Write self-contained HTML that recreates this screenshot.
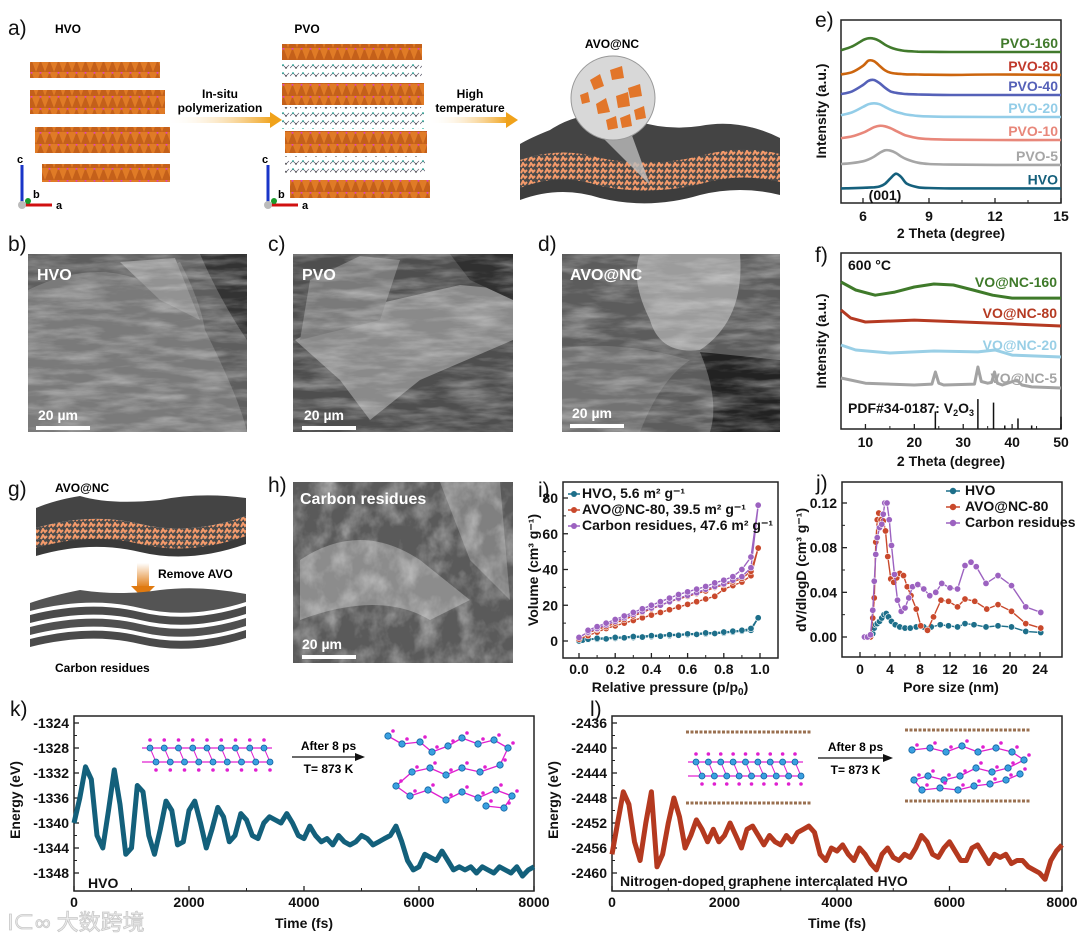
<!DOCTYPE html>
<html><head><meta charset="utf-8">
<style>
html,body{margin:0;padding:0;background:#fff;}
svg{display:block;font-family:"Liberation Sans",Arial,sans-serif;}
.tk{font-size:14px;font-weight:bold;fill:#111;}
.tt{font-size:14px;font-weight:bold;}
.pl{font-size:21px;fill:#111;}
</style></head>
<body>
<svg id="fig" width="1080" height="941" viewBox="0 0 1080 941" xmlns="http://www.w3.org/2000/svg">
<defs>
<filter id="semTex" x="0" y="0" width="100%" height="100%">
<feTurbulence type="fractalNoise" baseFrequency="0.02 0.1" numOctaves="4" seed="4"/>
<feColorMatrix type="matrix" values="0 0 0 0 0.85  0 0 0 0 0.85  0 0 0 0 0.85  0.8 0.4 0 0 -0.5"/>
</filter>
<filter id="semTex2" x="0" y="0" width="100%" height="100%">
<feTurbulence type="fractalNoise" baseFrequency="0.05 0.04" numOctaves="4" seed="9"/>
<feColorMatrix type="matrix" values="0 0 0 0 0.85  0 0 0 0 0.85  0 0 0 0 0.85  0.9 0.3 0 0 -0.5"/>
</filter>
<linearGradient id="arrowG" x1="0" x2="1"><stop offset="0" stop-color="#fff" stop-opacity="0"/><stop offset="1" stop-color="#f0a21a"/></linearGradient>
<linearGradient id="arrowV" x1="0" x2="0" y1="0" y2="1"><stop offset="0" stop-color="#fff"/><stop offset="1" stop-color="#e07a10"/></linearGradient>
<pattern id="octa" width="9" height="12" patternUnits="userSpaceOnUse"><rect width="9" height="12" fill="#e07b26"/><path d="M0 12 L4.5 0 L9 12" fill="#c4601a"/><circle cx="4.5" cy="0.8" r="1" fill="#e040c0"/></pattern>
<pattern id="poly" width="10" height="8" patternUnits="userSpaceOnUse"><path d="M0 4 L3 1 L6 4 L9 1" stroke="#556" stroke-width="0.7" fill="none"/><circle cx="3" cy="1" r="0.9" fill="#2a9"/><circle cx="6" cy="4" r="0.8" fill="#333"/></pattern>
<pattern id="orng" width="8" height="6" patternUnits="userSpaceOnUse"><rect width="8" height="6" fill="#4a4a4a"/><path d="M1 5 L3 1 L5 4 L7 2" stroke="#f59a6a" stroke-width="2" fill="none"/></pattern>
</defs>

<!-- ===== Panel a ===== -->
<g>
<text class="pl" x="8" y="35">a)</text>
<text x="68" y="33" font-size="12" font-weight="bold" text-anchor="middle">HVO</text>
<text x="307" y="33" font-size="12" font-weight="bold" text-anchor="middle">PVO</text>
<text x="612" y="48" font-size="12" font-weight="bold" text-anchor="middle">AVO@NC</text>
<g>
<rect x="30" y="62" width="130" height="16" fill="url(#octa)"/>
<rect x="30" y="90" width="135" height="24" fill="url(#octa)"/>
<rect x="35" y="127" width="135" height="26" fill="url(#octa)"/>
<rect x="42" y="164" width="128" height="18" fill="url(#octa)"/>
</g>
<g>
<line x1="22" y1="205" x2="22" y2="165" stroke="#1a35c8" stroke-width="3"/>
<line x1="22" y1="205" x2="52" y2="205" stroke="#d01010" stroke-width="3"/>
<circle cx="22" cy="205" r="4" fill="#bbb"/><circle cx="28" cy="201" r="3" fill="#1a9a2a"/>
<text x="17" y="163" font-size="11" font-weight="bold">c</text><text x="33" y="198" font-size="11" font-weight="bold">b</text><text x="56" y="209" font-size="11" font-weight="bold">a</text>
</g>
<rect x="165" y="117" width="108" height="6" fill="url(#arrowG)"/>
<polygon points="270,112 282,120 270,128" fill="#f0a21a"/>
<text x="220" y="98" font-size="12" font-weight="bold" text-anchor="middle">In-situ</text>
<text x="220" y="112" font-size="12" font-weight="bold" text-anchor="middle">polymerization</text>
<g>
<rect x="282" y="44" width="140" height="16" fill="url(#octa)"/>
<rect x="282" y="62" width="140" height="18" fill="url(#poly)"/>
<rect x="282" y="83" width="142" height="22" fill="url(#octa)"/>
<rect x="282" y="107" width="142" height="22" fill="url(#poly)"/>
<rect x="285" y="131" width="142" height="22" fill="url(#octa)"/>
<rect x="285" y="156" width="140" height="20" fill="url(#poly)"/>
<rect x="290" y="180" width="140" height="18" fill="url(#octa)"/>
</g>
<g>
<line x1="268" y1="205" x2="268" y2="165" stroke="#1a35c8" stroke-width="3"/>
<line x1="268" y1="205" x2="298" y2="205" stroke="#d01010" stroke-width="3"/>
<circle cx="268" cy="205" r="4" fill="#bbb"/><circle cx="274" cy="201" r="3" fill="#1a9a2a"/>
<text x="262" y="163" font-size="11" font-weight="bold">c</text><text x="278" y="198" font-size="11" font-weight="bold">b</text><text x="302" y="209" font-size="11" font-weight="bold">a</text>
</g>
<rect x="428" y="117" width="80" height="6" fill="url(#arrowG)"/>
<polygon points="506,112 518,120 506,128" fill="#f0a21a"/>
<text x="470" y="98" font-size="12" font-weight="bold" text-anchor="middle">High</text>
<text x="470" y="112" font-size="12" font-weight="bold" text-anchor="middle">temperature</text>
<g>
<path d="M520 200 Q560 185 600 198 Q650 210 700 195 Q740 185 780 195 L780 180 Q740 170 700 182 Q650 195 600 184 Q560 172 520 186 Z" fill="#3d3d3d"/>
<path d="M520 188 Q560 172 600 186 Q650 196 700 184 Q740 172 780 182 L780 166 Q740 156 700 168 Q650 180 600 170 Q560 160 520 174 Z" fill="url(#orng)"/>
<path d="M520 174 Q560 160 600 172 Q650 182 700 170 Q740 158 780 168 L780 152 Q740 142 700 155 Q650 166 600 156 Q560 146 520 160 Z" fill="url(#orng)"/>
<path d="M520 160 Q560 146 600 158 Q650 168 700 156 Q740 144 780 154 L780 138 Q740 118 700 126 Q660 132 620 115 Q580 110 550 130 Q530 138 520 144 Z" fill="#444"/>
</g>
<polygon points="595,130 630,130 650,185" fill="#bdbdbd" opacity="0.8"/>
<circle cx="613" cy="98" r="42" fill="#d8d8d8" stroke="#999"/>
<g fill="#e2762a">
<polygon points="590,80 600,74 604,86 594,90"/><polygon points="610,70 622,66 624,78 612,80"/><polygon points="628,88 640,84 642,96 630,98"/>
<polygon points="596,104 606,98 610,112 598,114"/><polygon points="616,96 628,92 630,106 618,108"/><polygon points="634,110 644,106 646,118 636,120"/>
<polygon points="606,120 616,116 618,128 608,130"/><polygon points="580,95 588,92 590,102 582,104"/><polygon points="620,118 630,114 632,126 622,128"/>
</g>
</g>

<!-- ===== SEM images ===== -->
<g>
<text class="pl" x="8" y="251">b)</text>
<rect x="28" y="254" width="219" height="178" fill="#5e5e5e"/>
<path d="M28 290 Q90 260 140 280 L180 262 Q200 300 205 330 Q240 400 247 432 L28 432 Z" fill="#7a7a7a"/>
<path d="M120 262 L175 258 L200 320 L160 300 Z" fill="#929292"/>
<path d="M200 254 L247 254 L247 340 Q220 300 200 254Z" fill="#333"/>
<rect x="28" y="254" width="219" height="178" filter="url(#semTex)"/>
<text x="37" y="280" font-size="16" font-weight="bold" fill="#fff">HVO</text>
<text x="38" y="420" font-size="14" font-weight="bold" fill="#fff">20 µm</text>
<rect x="36" y="426" width="54" height="4" fill="#fff"/>
</g>
<g>
<text class="pl" x="268" y="251">c)</text>
<rect x="293" y="254" width="220" height="178" fill="#4e4e4e"/>
<path d="M295 340 L350 310 L460 285 L513 290 L513 340 L420 380 L370 420 L340 380 Z" fill="#8a8a8a"/>
<path d="M310 280 L360 256 L400 260 L380 320 L300 340 Z" fill="#7a7a7a"/>
<path d="M450 254 L513 254 L513 300 L470 280 Z" fill="#303030"/>
<rect x="293" y="254" width="220" height="178" filter="url(#semTex)"/>
<text x="302" y="280" font-size="16" font-weight="bold" fill="#fff">PVO</text>
<text x="304" y="420" font-size="14" font-weight="bold" fill="#fff">20 µm</text>
<rect x="302" y="426" width="54" height="4" fill="#fff"/>
</g>
<g>
<text class="pl" x="538" y="251">d)</text>
<rect x="562" y="254" width="218" height="178" fill="#5c5c5c"/>
<path d="M640 254 L740 254 Q745 320 700 350 Q660 355 650 320 Q630 280 640 254Z" fill="#9c9c9c"/>
<path d="M562 348 Q620 340 690 360 Q660 380 640 432 L562 432 Z" fill="#727272"/>
<path d="M700 352 L780 360 L780 432 L710 432 Q720 400 700 352Z" fill="#222"/>
<rect x="562" y="254" width="218" height="178" filter="url(#semTex)"/>
<text x="570" y="280" font-size="16" font-weight="bold" fill="#fff">AVO@NC</text>
<text x="572" y="418" font-size="14" font-weight="bold" fill="#fff">20 µm</text>
<rect x="570" y="424" width="54" height="4" fill="#fff"/>
</g>

<!-- ===== Panel g ===== -->
<g>
<text class="pl" x="8" y="496">g)</text>
<text x="55" y="492" font-size="12" font-weight="bold">AVO@NC</text>
<path d="M36 552 Q90 535 140 548 Q190 560 246 540 L246 528 Q190 548 140 536 Q90 524 36 540 Z" fill="url(#orng)"/>
<path d="M36 540 Q90 524 140 536 Q190 548 246 528 L246 516 Q190 536 140 524 Q90 512 36 528 Z" fill="url(#orng)"/>
<path d="M36 528 Q90 512 140 524 Q190 536 246 516 L246 498 Q200 492 160 500 Q110 505 80 496 Q55 500 36 508 Z" fill="#444"/>
<path d="M36 556 Q90 540 140 552 Q190 564 246 544 L246 536 Q190 556 140 544 Q90 532 36 548 Z" fill="#3a3a3a"/>
<rect x="137" y="563" width="12" height="25" fill="url(#arrowV)"/>
<polygon points="131,586 155,586 143,598" fill="#e07a10"/>
<text x="158" y="578" font-size="12" font-weight="bold">Remove AVO</text>
<path d="M30 647 Q90 632 140 644 Q190 656 246 638 L246 630 Q190 648 140 636 Q90 624 30 639 Z" fill="#4a4a4a"/>
<path d="M30 635 Q90 620 140 632 Q190 644 246 626 L246 618 Q190 636 140 624 Q90 612 30 627 Z" fill="#505050"/>
<path d="M30 623 Q90 608 140 620 Q190 632 246 614 L246 606 Q190 624 140 612 Q90 600 30 615 Z" fill="#4a4a4a"/>
<path d="M30 611 Q90 596 140 608 Q190 620 246 602 L246 594 Q200 585 160 590 Q120 596 80 590 Q50 596 30 603 Z" fill="#545454"/>
<text x="55" y="672" font-size="12" font-weight="bold">Carbon residues</text>
</g>
<g>
<text class="pl" x="268" y="492">h)</text>
<rect x="293" y="482" width="220" height="181" fill="#5a5a5a"/>
<path d="M300 560 Q360 520 420 560 L470 600 L430 620 Q380 590 300 620Z" fill="#8c8c8c"/>
<path d="M440 482 L500 482 L510 600 L470 560Z" fill="#808080"/>
<rect x="293" y="482" width="220" height="181" filter="url(#semTex2)"/>
<text x="300" y="504" font-size="16" font-weight="bold" fill="#fff">Carbon residues</text>
<text x="302" y="649" font-size="14" font-weight="bold" fill="#fff">20 µm</text>
<rect x="302" y="655" width="54" height="4" fill="#fff"/>
</g>

<!-- panel letters -->
<text class="pl" x="815" y="27">e)</text>
<text class="pl" x="815" y="262">f)</text>
<text class="pl" x="538" y="497">i)</text>
<text class="pl" x="816" y="490">j)</text>
<text class="pl" x="10" y="716">k)</text>
<text class="pl" x="590" y="716">l)</text>

<g id="charts"></g>

<text x="8" y="930" font-size="22" fill="#eeeeee" stroke="#c9c9c9" stroke-width="0.8" font-family="'Liberation Sans','Noto Sans CJK SC',sans-serif">l⊂∞ 大数跨境</text>
</svg>

<script>
// ---------- DATA ----------
// panel e (XRD, low angle)
const eTheta = [5,5.5,6,6.25,6.5,6.75,7,7.25,7.5,7.75,8,8.5,9,10,12,15];
const eNames = ["HVO","PVO-5","PVO-10","PVO-20","PVO-40","PVO-80","PVO-160"];
const eOffsets = [8,20.8,34.4,47,59,70,82.5];
const eHVO   = [0,0.1,0.3,0.4,0.6,1,2.5,5.5,8,6,2.5,0.6,0.2,0,0,0];
const ePVO5  = [0.5,1,2,3,4.5,6.5,8,7.8,6.5,4.5,3,1.2,0.5,0.2,0,0];
const ePVO10 = [1,2,4,5.5,7,7.8,7.5,6.5,5,3.5,2.3,1,0.5,0.2,0,0];
const ePVO20 = [1,2.5,5.5,7,7.5,7,5.5,4,2.8,2,1.3,0.6,0.3,0.1,0,0];
const ePVO40 = [0.5,2,5.5,7.8,8.2,6.5,4,2,1.2,0.8,0.5,0.3,0.2,0,0,0];
const ePVO80 = [0.3,1.5,5,7.8,7.5,5,2.5,1.2,0.7,0.5,0.3,0.2,0.1,0,0.2,0];
const ePVO160= [1,3,6.5,7.5,7.3,6,4,2.5,1.5,0.9,0.5,0.2,0.1,0,0,0];
const eTicks = [6,9,12,15];

// panel f (XRD, 600 C)
const f160X = [5,8,12,16,20,24,28,32,36,40,44,50];
const f160Y = [83.5,79,76,77.8,80.7,82.4,81.8,79,76,74.4,74.4,74.4];
const f80X = [5,7,10,20,30,40,50];
const f80Y = [67.6,63,60.8,61.9,60.8,59.7,58.5];
const f20X = [5,8,15,24,33,36.5,40,50];
const f20Y = [47.7,44.9,43.2,44.3,43.8,44.9,42,40.9];
const f5X = [5,10,20,23.6,24.3,25,26,32.3,33,33.7,35,35.8,36.4,37,38,41,42,44,50];
const f5Y = [29,26,25,25.5,32.4,26,25,25.5,35.2,27,26,26.5,32.4,26,25,27.8,25,23.9,23.3];
const fRefX = [24.3,33,36.2,38.5,41.2,44,50];
const fRefH = [10,17,15,2,6,2,7];
const fTicks = [10,20,30,40,50];

// panel i (N2 isotherms)
const iHvoP = [0,0.02,0.05,0.1,0.15,0.2,0.25,0.3,0.35,0.4,0.45,0.5,0.55,0.6,0.65,0.7,0.75,0.8,0.85,0.9,0.95,0.99,0.95,0.9,0.85,0.8,0.7,0.6,0.5,0.4,0.3,0.2,0.1,0.05];
const iHvoV = [0,0.5,0.8,1,1.2,1.5,1.8,2,2.2,2.5,2.7,3,3.2,3.5,3.7,4,4.2,4.5,5,5.5,6,13,7,6,5.5,5,4.5,4,3.5,3,2.5,2,1.5,1];
const iAvoP = [0,0.05,0.1,0.15,0.2,0.25,0.3,0.35,0.4,0.45,0.5,0.55,0.6,0.65,0.7,0.75,0.8,0.85,0.9,0.95,0.99,0.95,0.9,0.85,0.8,0.75,0.7,0.65,0.6,0.55,0.5,0.45,0.4,0.35,0.3,0.25,0.2,0.15,0.1,0.05];
const iAvoV = [1,3,5,7,8.5,10,11.5,13,14.5,16,17.5,19,20.5,22,23.5,25,29,31,33,36.5,52,39,35,33,31.5,30,28,26.5,25,23.5,22,20,18,16,14,12,10,8,6.5,4.5];
const iCarP = [0,0.05,0.1,0.15,0.2,0.25,0.3,0.35,0.4,0.45,0.5,0.55,0.6,0.65,0.7,0.75,0.8,0.85,0.9,0.95,0.99,0.95,0.9,0.85,0.8,0.75,0.7,0.65,0.6,0.55,0.5,0.45,0.4,0.35,0.3,0.25,0.2,0.15,0.1,0.05];
const iCarV = [2,5,7,9,11,13,15,16.5,18.5,20,22,24,25.5,27,29,30.5,32,34,36,41,76,47,40,36,34,32.5,30.5,29,27.5,26,24,22,20,18,16,14,12,10,8,6];
const iXTicks = [0,0.2,0.4,0.6,0.8,1.0];
const iYTicks = [0,20,40,60,80];

// panel j (pore size distribution)
const jHvoX = [0.6,1.0,1.4,1.7,1.9,2.1,2.3,2.6,2.9,3.2,3.5,3.8,4.2,4.7,5.3,6.0,6.7,7.5,8.5,9.5,10.7,11.8,13,14,15.2,16.8,18.4,20.2,22.1,24.1];
const jHvoY = [0,0,0,0.003,0.008,0.011,0.012,0.014,0.017,0.02,0.021,0.018,0.014,0.011,0.009,0.008,0.008,0.009,0.009,0.009,0.011,0.010,0.009,0.012,0.011,0.009,0.010,0.009,0.005,0.004];
const jAvoX = [0.6,1.0,1.4,1.7,1.9,2.1,2.3,2.5,2.8,3.1,3.4,3.7,4.1,4.5,4.9,5.3,5.8,6.3,6.8,7.5,8.1,9.0,9.8,10.8,11.8,13,14,15.3,16.9,18.4,20.2,22.1,24.1];
const jAvoY = [0,0,0,0.017,0.035,0.085,0.105,0.111,0.105,0.104,0.095,0.072,0.052,0.049,0.053,0.057,0.055,0.045,0.037,0.025,0.010,0.006,0.018,0.033,0.032,0.027,0.034,0.032,0.025,0.029,0.023,0.012,0.008];
const jCarX = [0.6,1.0,1.4,1.7,1.9,2.1,2.3,2.6,2.9,3.1,3.3,3.6,3.9,4.2,4.6,5.0,5.5,6.0,6.5,7.0,7.7,8.5,9.3,10.1,10.9,12,13,14,14.8,15.5,16.8,18.4,20.2,22.1,24.1];
const jCarY = [0,0,0.002,0.024,0.050,0.074,0.089,0.098,0.101,0.11,0.12,0.12,0.105,0.082,0.056,0.033,0.023,0.026,0.035,0.045,0.047,0.043,0.037,0.040,0.048,0.044,0.043,0.064,0.067,0.063,0.048,0.055,0.046,0.027,0.022];
const jXTicks = [0,4,8,12,16,20,24];
const jYTicks = [0,0.04,0.08,0.12];

// panels k and l (AIMD energies)
const timeFs = [0,100,200,300,400,500,600,700,800,900,1000,1100,1200,1300,1400,1500,1600,1700,1800,1900,2000,2100,2200,2300,2400,2500,2600,2700,2800,2900,3000,3100,3200,3300,3400,3500,3600,3700,3800,3900,4000,4100,4200,4300,4400,4500,4600,4700,4800,4900,5000,5100,5200,5300,5400,5500,5600,5700,5800,5900,6000,6100,6200,6300,6400,6500,6600,6700,6800,6900,7000,7100,7200,7300,7400,7500,7600,7700,7800,7900,8000];
const kEnergy = [-1340,-1336,-1331,-1333,-1342,-1344,-1338,-1331.5,-1337,-1345,-1344,-1334,-1335,-1342,-1345,-1341,-1336.5,-1338,-1343.5,-1343,-1338,-1336.5,-1340,-1344,-1341,-1337.5,-1339,-1343,-1342,-1338.5,-1339.5,-1342,-1342.5,-1340,-1339,-1339.5,-1340,-1338.5,-1340,-1342,-1342.5,-1340.5,-1342,-1343,-1342.5,-1343.5,-1342,-1343,-1343.5,-1343,-1342,-1342.5,-1343.5,-1343,-1342.5,-1342,-1340.5,-1343,-1346,-1347.5,-1347,-1345,-1345.5,-1346,-1344.5,-1346,-1347.5,-1347,-1347.5,-1347,-1348,-1347,-1347.5,-1348,-1347,-1347.5,-1348,-1347,-1348.5,-1347.5,-1347];
const lEnergy = [-2457,-2452,-2447,-2449,-2455,-2458,-2452,-2447,-2459,-2457,-2452,-2448,-2451,-2456,-2454,-2451.5,-2453,-2455,-2453,-2455,-2454,-2452,-2454,-2456,-2453,-2452.5,-2454,-2455.5,-2454,-2455,-2455.5,-2454,-2455,-2453.5,-2453,-2452.5,-2453.5,-2457,-2458,-2456,-2456.5,-2455.5,-2457,-2458,-2456,-2457,-2458.5,-2459.5,-2457,-2456,-2457.5,-2458,-2457,-2457.5,-2456,-2454,-2455,-2457,-2457.5,-2456,-2455,-2456.5,-2458,-2458,-2456,-2455.5,-2457,-2458.5,-2457,-2457.5,-2457,-2458.5,-2458,-2458,-2459,-2459.5,-2460,-2461,-2458,-2456.5,-2455.5];
const timeTicks = [0,2000,4000,6000,8000];
const kYTicks = [-1348,-1344,-1340,-1336,-1332,-1328,-1324];
const lYTicks = [-2460,-2456,-2452,-2448,-2444,-2440,-2436];

// ---------- HELPERS ----------
const NS = "http://www.w3.org/2000/svg";
const root = document.getElementById('charts');
function mk(tag, attrs, parent){
  const el = document.createElementNS(NS, tag);
  for (const k in attrs) el.setAttribute(k, attrs[k]);
  (parent||root).appendChild(el);
  return el;
}
function scale(d0,d1,r0,r1){ return v => r0 + (v-d0)*(r1-r0)/(d1-d0); }
function pathD(xs, ys, sx, sy){
  let d=''; for(let i=0;i<xs.length;i++){ d += (i?'L':'M') + sx(xs[i]).toFixed(1) + ' ' + sy(ys[i]).toFixed(1); } return d;
}
function smoothD(xs, ys, sx, sy){
  const P = xs.map((x,i)=>[sx(x), sy(ys[i])]);
  let d = 'M'+P[0][0].toFixed(1)+' '+P[0][1].toFixed(1);
  for(let i=0;i<P.length-1;i++){
    const p0=P[Math.max(0,i-1)], p1=P[i], p2=P[i+1], p3=P[Math.min(P.length-1,i+2)];
    const c1=[p1[0]+(p2[0]-p0[0])/6, p1[1]+(p2[1]-p0[1])/6];
    const c2=[p2[0]-(p3[0]-p1[0])/6, p2[1]-(p3[1]-p1[1])/6];
    d += 'C'+c1[0].toFixed(1)+' '+c1[1].toFixed(1)+' '+c2[0].toFixed(1)+' '+c2[1].toFixed(1)+' '+p2[0].toFixed(1)+' '+p2[1].toFixed(1);
  }
  return d;
}
function frame(name, x0,y0,x1,y1){
  const r = mk('rect',{x:x0,y:y0,width:x1-x0,height:y1-y0,fill:'none',stroke:'#222','stroke-width':1.5});
  
  
}
function xAxis(name, ticks, sx, yb, labY, fmt, minor){
  const g = mk('g',{});
  
  
  ticks.forEach(t=>{
    mk('line',{x1:sx(t),x2:sx(t),y1:yb,y2:yb-5,stroke:'#222','stroke-width':1.3},g);
    const tx = mk('text',{x:sx(t),y:labY,class:'tk','text-anchor':'middle'},g);
    tx.textContent = fmt ? fmt(t) : t;
  });
  if(minor){ for(let i=0;i<ticks.length-1;i++){ const m=(ticks[i]+ticks[i+1])/2; mk('line',{x1:sx(m),x2:sx(m),y1:yb,y2:yb-3,stroke:'#222','stroke-width':1},g);} }
}
function yAxis(name, ticks, sy, xl, fmt, minor){
  const g = mk('g',{});
  
  
  ticks.forEach(t=>{
    mk('line',{x1:xl,x2:xl+5,y1:sy(t),y2:sy(t),stroke:'#222','stroke-width':1.3},g);
    const tx = mk('text',{x:xl-5,y:sy(t)+5,class:'tk','text-anchor':'end'},g);
    tx.textContent = fmt ? fmt(t) : t;
  });
  if(minor){ for(let i=0;i<ticks.length-1;i++){ const m=(ticks[i]+ticks[i+1])/2; mk('line',{x1:xl,x2:xl+3,y1:sy(m),y2:sy(m),stroke:'#222','stroke-width':1},g);} }
}
function text(name, x,y,str,attrs){
  const a = Object.assign({x:x,y:y,class:'tt',fill:'#111'}, attrs||{});
  const t = mk('text', a);
  t.style.fill = a.fill;
  t.textContent = str;
  
  
  return t;
}

// ---------- PANEL E ----------
(function(){
  const sx = scale(5,15,841,1061), sy = scale(0,100,203,20);
  frame('e-plot-frame',841,20,1061,203);
  xAxis('e-x-axis', eTicks, sx, 203, 221, null, true);
  text('e-x-title',951,238,'2 Theta (degree)',{'text-anchor':'middle'});
  text('e-y-title',0,0,'Intensity (a.u.)',{'text-anchor':'middle',transform:'translate(826,111) rotate(-90)'});
  const series = [eHVO,ePVO5,ePVO10,ePVO20,ePVO40,ePVO80,ePVO160];
  const cols = ['#15607c','#a6a6a6','#e8877a','#93cde8','#5561b8','#cc650e','#417a2c'];
  const lab = ['#15607c','#a6a6a6','#e8877a','#93cde8','#5561b8','#c0392b','#417a2c'];
  series.forEach((s,i)=>{
    const vals = s.map(v=>v+eOffsets[i]);
    const p = mk('path',{d:smoothD(eTheta,vals,sx,sy),fill:'none',stroke:cols[i],'stroke-width':2.6});
    
    
    text('xrd-label-'+eNames[i].toLowerCase(),1058,sy(eOffsets[i])-4,eNames[i],{'text-anchor':'end',fill:lab[i],'font-size':'14px'});
  });
  text('peak-001-label',885,200,'(001)',{'text-anchor':'middle','font-size':'12px'});
})();

// ---------- PANEL F ----------
(function(){
  const sx = scale(5,50,841,1061), sy = scale(0,100,429,253);
  frame('f-plot-frame',841,253,1061,429);
  xAxis('f-x-axis', fTicks, sx, 429, 447, null, true);
  text('f-x-title',951,466,'2 Theta (degree)',{'text-anchor':'middle'});
  text('f-y-title',0,0,'Intensity (a.u.)',{'text-anchor':'middle',transform:'translate(826,341) rotate(-90)'});
  text('temperature-label',848,270,'600 °C',{'font-size':'12px'});
  const S = [[f160X,f160Y,'#3f7a2a','VO@NC-160',287],[f80X,f80Y,'#b53a22','VO@NC-80',318],[f20X,f20Y,'#99cfe6','VO@NC-20',350],[f5X,f5Y,'#a3a3a3','VO@NC-5',383]];
  S.forEach(s=>{
    const p = mk('path',{d:pathD(s[0],s[1],sx,sy),fill:'none',stroke:s[2],'stroke-width':3,'stroke-linejoin':'round'});
    
    
    text('xrd-label-'+s[3].toLowerCase(),1057,s[4],s[3],{'text-anchor':'end',fill:s[2],'font-size':'14px'});
  });
  fRefX.forEach((x,i)=>{
    const l = mk('line',{x1:sx(x),x2:sx(x),y1:429,y2:sy(fRefH[i]),stroke:'#111','stroke-width':1.5});
    
    
  });
  const t = text('pdf-reference-label',848,413,'PDF#34-0187: V',{'font-size':'12px'});
  const a = mk('tspan',{'font-size':'9px',dy:3},t); a.textContent='2';
  const b = mk('tspan',{dy:-3},t); b.textContent='O';
  const c = mk('tspan',{'font-size':'9px',dy:3},t); c.textContent='3';
})();

// ---------- PANEL I ----------
(function(){
  const sx = scale(0,1,579,760), sy = scale(0,80,641,498);
  frame('i-plot-frame',563,482,778,658);
  xAxis('i-x-axis', iXTicks, sx, 658, 674, v=>v.toFixed(1), true);
  yAxis('i-y-axis', iYTicks, sy, 563, null, true);
  const xt = text('i-x-title',670,692,'Relative pressure (p/p',{'text-anchor':'middle'});
  const s0 = mk('tspan',{'font-size':'10px',dy:3},xt); s0.textContent='0';
  const s1 = mk('tspan',{dy:-3},xt); s1.textContent=')';
  text('i-y-title',0,0,'Volume (cm³ g⁻¹)',{'text-anchor':'middle',transform:'translate(538,570) rotate(-90)'});
  const S = [[iHvoP,iHvoV,'#1d6f8a','HVO, 5.6 m² g⁻¹','hvo'],[iAvoP,iAvoV,'#c9492c','AVO@NC-80, 39.5 m² g⁻¹','avo-nc-80'],[iCarP,iCarV,'#9c62c0','Carbon residues, 47.6 m² g⁻¹','carbon-residues']];
  S.forEach((s,k)=>{
    const p = mk('path',{d:pathD(s[0],s[1],sx,sy),fill:'none',stroke:s[2],'stroke-width':1.4});
    
    
    s[0].forEach((x,i)=>{
      const c = mk('circle',{cx:sx(x),cy:sy(s[1][i]),r:3.2,fill:s[2],stroke:'#fff','stroke-width':0.6});
      
      
    });
    const ly = 494+k*16;
    const ll = mk('line',{x1:568,x2:580,y1:ly,y2:ly,stroke:s[2],'stroke-width':1.5});
    
    
    const lc = mk('circle',{cx:574,cy:ly,r:3,fill:s[2]});
    
    
    text('legend-entry-'+s[4],582,ly+4,s[3],{'font-size':'11px'});
  });
})();

// ---------- PANEL J ----------
(function(){
  const sx = scale(0,24,860,1040), sy = scale(0,0.12,637,503);
  frame('j-plot-frame',842,482,1062,657);
  xAxis('j-x-axis', jXTicks, sx, 657, 674, null, true);
  yAxis('j-y-axis', jYTicks, sy, 842, v=>v.toFixed(2), true);
  text('j-x-title',951,692,'Pore size (nm)',{'text-anchor':'middle'});
  text('j-y-title',0,0,'dV/dlogD (cm³ g⁻¹)',{'text-anchor':'middle',transform:'translate(806,570) rotate(-90)'});
  const S = [[jHvoX,jHvoY,'#1d6f8a','HVO','hvo'],[jAvoX,jAvoY,'#c9492c','AVO@NC-80','avo-nc-80'],[jCarX,jCarY,'#9c62c0','Carbon residues','carbon-residues']];
  S.forEach((s,k)=>{
    const p = mk('path',{d:pathD(s[0],s[1],sx,sy),fill:'none',stroke:s[2],'stroke-width':1.4});
    
    
    s[0].forEach((x,i)=>{
      const c = mk('circle',{cx:sx(x),cy:sy(s[1][i]),r:3.2,fill:s[2],stroke:'#fff','stroke-width':0.6});
      
      
    });
    const ly = 491+k*16;
    const ll = mk('line',{x1:946,x2:960,y1:ly,y2:ly,stroke:s[2],'stroke-width':1.5});
    
    
    const lc = mk('circle',{cx:953,cy:ly,r:3.2,fill:s[2]});
    
    
    text('legend-entry-j-'+s[4],965,ly+4,s[3],{'font-size':'11.5px'});
  });
})();

// ---------- molecule insets (decorative) ----------
function chainInset(name, x0, y0, w){
  const g = mk('g',{});
  
  
  mk('path',{d:'M'+x0+' '+(y0)+' H'+(x0+w)+' M'+x0+' '+(y0+14)+' H'+(x0+w),stroke:'#e020d0','stroke-width':1.2},g);
  for(let i=0;i<9;i++){
    const x = x0+8+i*(w-16)/8;
    mk('line',{x1:x,x2:x+6,y1:y0,y2:y0+14,stroke:'#e020d0','stroke-width':1},g);
    mk('circle',{cx:x,cy:y0,r:3,fill:'#3aa0e0',stroke:'#1060a0','stroke-width':0.8},g);
    mk('circle',{cx:x+6,cy:y0+14,r:3,fill:'#3aa0e0',stroke:'#1060a0','stroke-width':0.8},g);
    mk('circle',{cx:x,cy:y0-8,r:1.8,fill:'#e020d0'},g);
    mk('circle',{cx:x+6,cy:y0+22,r:1.8,fill:'#e020d0'},g);
  }
}
function clusterInset(name, pts){
  const g = mk('g',{});
  
  
  for(let i=0;i<pts.length-1;i++){ mk('line',{x1:pts[i][0],y1:pts[i][1],x2:pts[i+1][0],y2:pts[i+1][1],stroke:'#e020d0','stroke-width':1.3},g); }
  pts.forEach(p=>{
    mk('circle',{cx:p[0],cy:p[1],r:3.2,fill:'#3aa0e0',stroke:'#1060a0','stroke-width':0.8},g);
    mk('circle',{cx:p[0]+5,cy:p[1]-5,r:1.8,fill:'#e020d0'},g);
  });
}
function arrowInset(name, x0,x1,y){
  const g = mk('g',{});
  
  
  mk('line',{x1:x0,x2:x1-8,y1:y,y2:y,stroke:'#111','stroke-width':1.3},g);
  mk('polygon',{points:(x1-10)+','+(y-4)+' '+x1+','+y+' '+(x1-10)+','+(y+4),fill:'#111'},g);
  const t1 = mk('text',{x:(x0+x1)/2,y:y-7,'text-anchor':'middle','font-size':'12px','font-weight':'bold'},g); t1.textContent='After 8 ps';
  const t2 = mk('text',{x:(x0+x1)/2,y:y+16,'text-anchor':'middle','font-size':'12px','font-weight':'bold'},g); t2.textContent='T= 873 K';
}

// ---------- PANEL K ----------
(function(){
  const sx = scale(0,8000,74,534), sy = scale(-1324,-1348,723,873);
  frame('k-plot-frame',74,716,534,891);
  xAxis('k-x-axis', timeTicks, sx, 891, 907, null, true);
  yAxis('k-y-axis', kYTicks, sy, 74, null, true);
  text('k-x-title',304,928,'Time (fs)',{'text-anchor':'middle'});
  text('k-y-title',0,0,'Energy (eV)',{'text-anchor':'middle',transform:'translate(20,800) rotate(-90)'});
  const p = mk('path',{d:pathD(timeFs,kEnergy,sx,sy),fill:'none',stroke:'#13607b','stroke-width':5,'stroke-linejoin':'round'});
  
  
  text('k-hvo-label',88,888,'HVO',{'font-size':'13px'});
  chainInset('k-initial-structure',142,748,130);
  arrowInset('k-transform-arrow',292,365,757);
  clusterInset('k-final-structure',[[388,736],[402,744],[420,742],[432,752],[448,746],[462,738],[478,744],[494,740],[508,748],[500,765],[480,772],[462,768],[446,775],[430,768],[412,772],[396,786],[410,796],[428,790],[446,800],[462,792],[478,798],[496,790],[512,796],[504,808],[486,806]]);
})();

// ---------- PANEL L ----------
(function(){
  const sx = scale(0,8000,612,1062), sy = scale(-2436,-2460,723,873);
  frame('l-plot-frame',612,716,1062,891);
  xAxis('l-x-axis', timeTicks, sx, 891, 907, null, true);
  yAxis('l-y-axis', lYTicks, sy, 612, null, true);
  text('l-x-title',837,928,'Time (fs)',{'text-anchor':'middle'});
  text('l-y-title',0,0,'Energy (eV)',{'text-anchor':'middle',transform:'translate(558,800) rotate(-90)'});
  const p = mk('path',{d:pathD(timeFs,lEnergy,sx,sy),fill:'none',stroke:'#b4391f','stroke-width':5,'stroke-linejoin':'round'});
  
  
  text('l-system-label',620,886,'Nitrogen-doped graphene intercalated HVO',{'font-size':'13px'});
  [[686,812,732],[686,812,803],[905,1030,730],[905,1030,801]].forEach(g=>{
    const l = mk('line',{x1:g[0],x2:g[1],y1:g[2],y2:g[2],stroke:'#9a7050','stroke-width':3,'stroke-dasharray':'3 1.5'});
    
    
  });
  chainInset('l-initial-structure',688,762,115);
  arrowInset('l-transform-arrow',818,893,758);
  clusterInset('l-final-structure',[[912,750],[930,748],[946,752],[962,746],[978,752],[996,748],[1012,752],[1024,760],[1008,768],[992,772],[976,768],[960,776],[944,780],[928,776],[914,780],[922,790],[940,788],[958,790],[974,786],[990,784],[1006,780],[1020,774]]);
})();
</script>
</body></html>
